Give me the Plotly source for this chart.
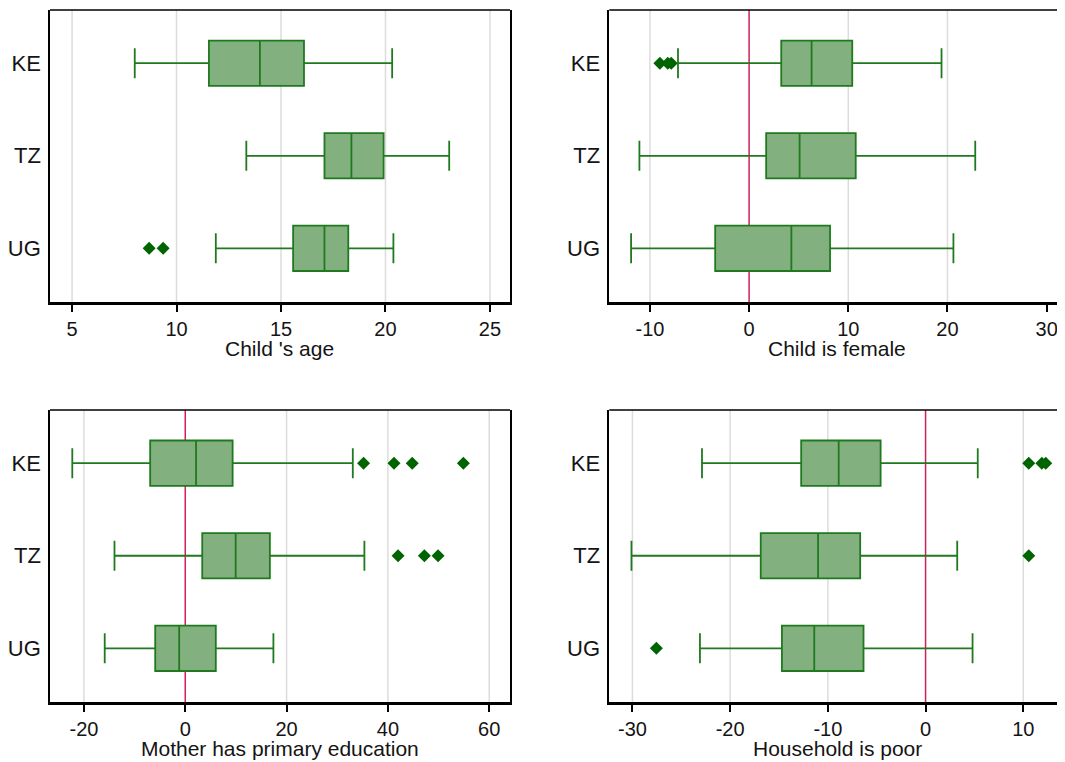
import plotly.graph_objects as go
from plotly.subplots import make_subplots

COUNTRIES = ["KE", "TZ", "UG"]

# Panel 1: Child 's age
AGE_LOW = [8.00, 13.34, 11.88]
AGE_Q1 = [11.55, 17.08, 15.58]
AGE_MED = [13.99, 18.37, 17.08]
AGE_Q3 = [16.10, 19.91, 18.22]
AGE_HIGH = [20.32, 23.05, 20.38]
AGE_OUT_X = [8.69, 9.36]
AGE_OUT_Y = ["UG", "UG"]
AGE_TICKS = [5, 10, 15, 20, 25]
AGE_GRID = [5, 10, 15, 20, 25]

# Panel 2: Child is female
FEM_LOW = [-7.17, -11.06, -11.90]
FEM_Q1 = [3.24, 1.72, -3.42]
FEM_MED = [6.30, 5.09, 4.26]
FEM_Q3 = [10.40, 10.75, 8.16]
FEM_HIGH = [19.40, 22.80, 20.60]
FEM_OUT_X = [-9.00, -8.20, -7.85]
FEM_OUT_Y = ["KE", "KE", "KE"]
FEM_TICKS = [-10, 0, 10, 20, 30]
FEM_GRID = [-10, 10, 20]

# Panel 3: Mother has primary education
EDU_LOW = [-22.30, -13.97, -15.90]
EDU_Q1 = [-6.93, 3.35, -5.93]
EDU_MED = [2.13, 9.95, -1.20]
EDU_Q3 = [9.35, 16.70, 6.03]
EDU_HIGH = [33.07, 35.36, 17.40]
EDU_OUT_X = [35.2, 41.2, 44.8, 54.9, 42.0, 47.2, 49.9]
EDU_OUT_Y = ["KE", "KE", "KE", "KE", "TZ", "TZ", "TZ"]
EDU_TICKS = [-20, 0, 20, 40, 60]
EDU_GRID = [-20, 20, 40, 60]

# Panel 4: Household is poor
POOR_LOW = [-22.88, -30.10, -23.09]
POOR_Q1 = [-12.73, -16.87, -14.70]
POOR_MED = [-8.89, -11.00, -11.39]
POOR_Q3 = [-4.60, -6.69, -6.35]
POOR_HIGH = [5.34, 3.24, 4.81]
POOR_OUT_X = [10.56, 11.90, 12.30, 10.56, -27.55]
POOR_OUT_Y = ["KE", "KE", "KE", "TZ", "UG"]
POOR_TICKS = [-30, -20, -10, 0, 10]
POOR_GRID = [-30, -20, -10, 10]

TITLES = ["Child 's age", "Child is female", "Mother has primary education", "Household is poor"]
XRANGES = [[3.944, 25.96], [-14.1, 31.85], [-26.7, 64.1], [-32.37, 14.27]]

FONT = "Liberation Sans, Arial, sans-serif"
TEXT = "#141414"
BOX_LINE = "#1f7a1f"
BOX_FILL = "#82b07e"
OUT_COL = "#006400"
REF_COL = "#d0205a"
GRID_COL = "#dcdcdc"

fig = make_subplots(rows=2, cols=2)

panels = [
    (1, 1, AGE_LOW, AGE_Q1, AGE_MED, AGE_Q3, AGE_HIGH, AGE_OUT_X, AGE_OUT_Y, AGE_TICKS, AGE_GRID, False),
    (1, 2, FEM_LOW, FEM_Q1, FEM_MED, FEM_Q3, FEM_HIGH, FEM_OUT_X, FEM_OUT_Y, FEM_TICKS, FEM_GRID, True),
    (2, 1, EDU_LOW, EDU_Q1, EDU_MED, EDU_Q3, EDU_HIGH, EDU_OUT_X, EDU_OUT_Y, EDU_TICKS, EDU_GRID, True),
    (2, 2, POOR_LOW, POOR_Q1, POOR_MED, POOR_Q3, POOR_HIGH, POOR_OUT_X, POOR_OUT_Y, POOR_TICKS, POOR_GRID, True),
]

x_domains = {1: [0.0, 0.4532], 2: [0.5510, 1.0]}
y_domains = {1: [0.5780, 1.0], 2: [0.0, 0.4220]}

shapes = []
annotations = []
for i, (r, c, lo, q1, med, q3, hi, ox, oy, ticks, grid, refline) in enumerate(panels):
    fig.add_trace(go.Box(
        y=COUNTRIES, q1=q1, median=med, q3=q3, lowerfence=lo, upperfence=hi,
        orientation="h", width=0.49, whiskerwidth=0.66,
        fillcolor=BOX_FILL, line=dict(color=BOX_LINE, width=1.8),
        boxpoints=False, showlegend=False,
    ), row=r, col=c)
    fig.add_trace(go.Scatter(
        x=ox, y=oy, mode="markers",
        marker=dict(symbol="diamond", size=10, color=OUT_COL),
        showlegend=False,
    ), row=r, col=c)
    fig.update_xaxes(
        row=r, col=c, domain=x_domains[c], range=XRANGES[i],
        tickmode="array", tickvals=ticks, ticktext=[str(t) for t in ticks],
        showgrid=False, zeroline=False,
        showline=True, linecolor="black", linewidth=2.5,
        ticks="outside", ticklen=7, tickwidth=1.5, tickcolor="black",
        tickfont=dict(family=FONT, size=20, color=TEXT),
    )
    fig.update_yaxes(
        row=r, col=c, domain=y_domains[r],
        type="category", categoryorder="array", categoryarray=COUNTRIES,
        range=[2.58, -0.575], showgrid=False, zeroline=False,
        showline=True, linecolor="black", linewidth=1.5, mirror=(c == 1),
        ticks="", ticklabelstandoff=3,
        tickfont=dict(family=FONT, size=22, color=TEXT),
    )
    suffix = "" if i == 0 else str(i + 1)
    # axis title, centred under the panel
    annotations.append(dict(text=TITLES[i], xref=f"x{suffix} domain", yref=f"y{suffix} domain",
                            x=0.5, y=0, xanchor="center", yanchor="middle", yshift=-46,
                            showarrow=False, font=dict(family=FONT, size=21, color=TEXT)))
    # vertical gridlines (behind the traces)
    for t in grid:
        shapes.append(dict(type="line", xref=f"x{suffix}", yref=f"y{suffix} domain",
                           x0=t, x1=t, y0=0, y1=1, layer="below",
                           line=dict(color=GRID_COL, width=1.5)))
    if refline:
        shapes.append(dict(type="line", xref=f"x{suffix}", yref=f"y{suffix} domain",
                           x0=0, x1=0, y0=0, y1=1, layer="below",
                           line=dict(color=REF_COL, width=1.5)))
    # top frame line
    shapes.append(dict(type="line", xref=f"x{suffix} domain", yref=f"y{suffix} domain",
                       x0=0, x1=1, y0=1, y1=1, line=dict(color="black", width=1.5)))

# The page body has an 8px default margin, so the figure is 8px smaller
# than the window and its margins are reduced by the same amount.
fig.update_layout(
    width=1057, height=754,
    margin=dict(l=42, r=0, t=2, b=60),
    paper_bgcolor="white", plot_bgcolor="white",
    font=dict(family=FONT, color=TEXT),
    showlegend=False,
    shapes=shapes,
    annotations=annotations,
)

fig.write_html("out.html")
